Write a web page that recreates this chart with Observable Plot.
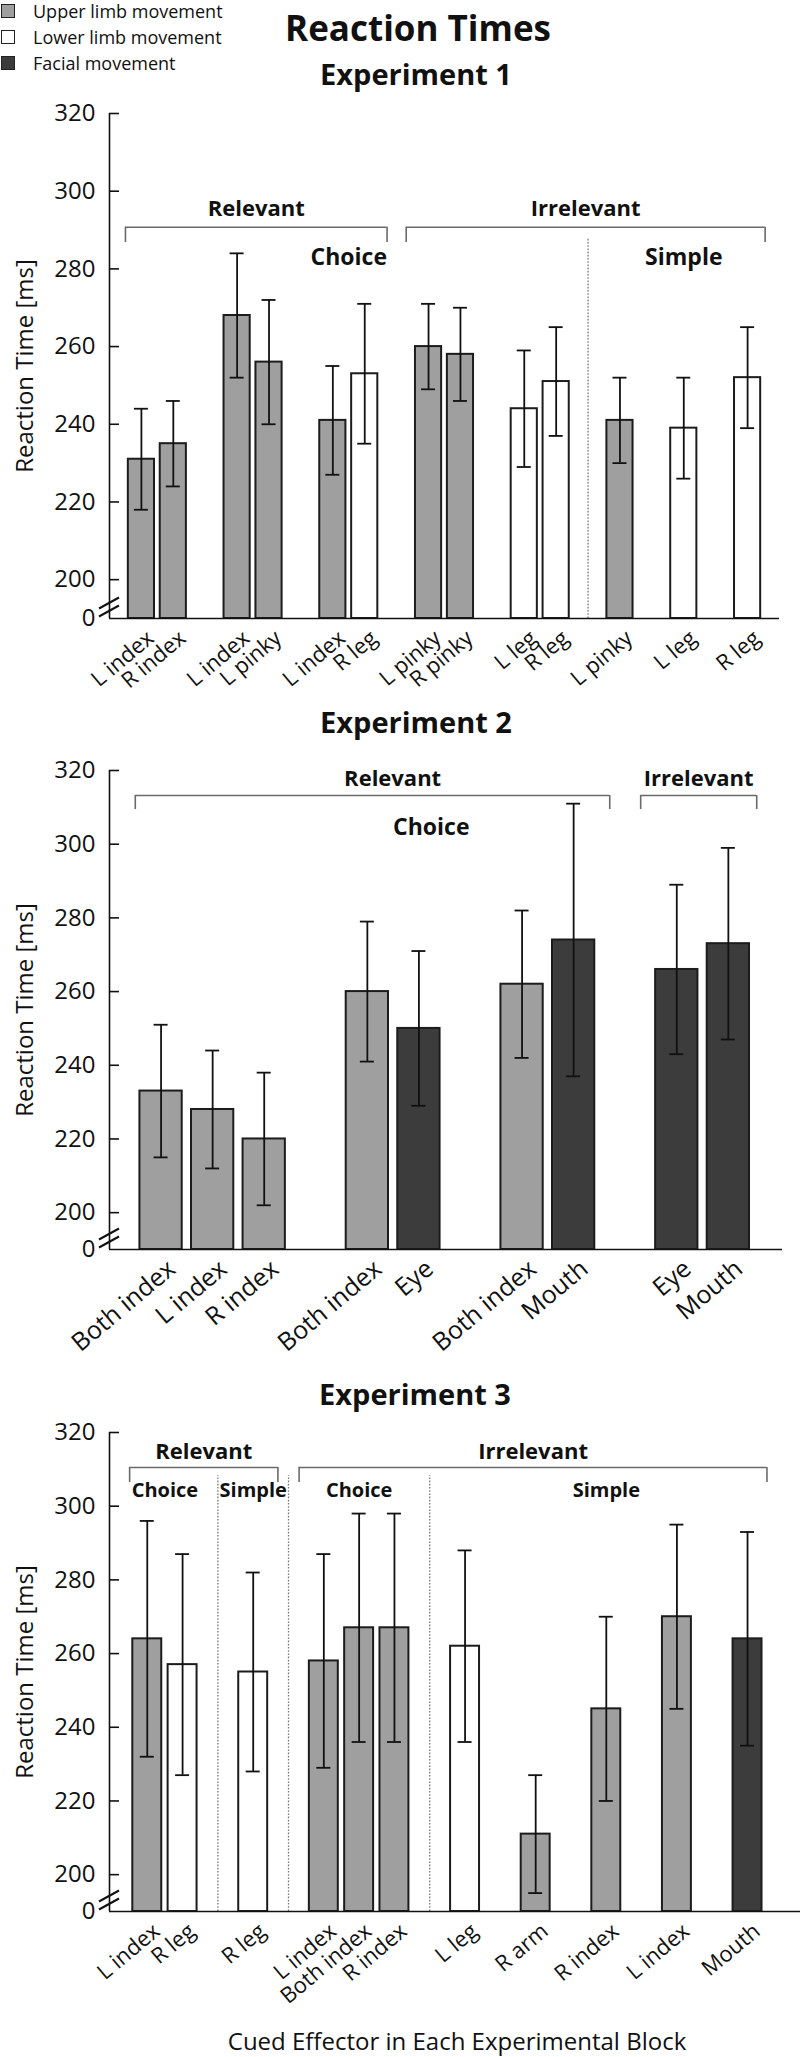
<!DOCTYPE html>
<html><head><meta charset="utf-8">
<script src="https://cdn.jsdelivr.net/npm/d3@7"></script>
<script src="https://cdn.jsdelivr.net/npm/@observablehq/plot@0.6"></script>
<style>
html,body{margin:0;padding:0;background:#fff;}
#page{position:relative;width:800px;height:2057px;overflow:hidden;font-family:"Open Sans","DejaVu Sans",sans-serif;color:#111;}
.abs{position:absolute;white-space:nowrap;line-height:1;}
.ctr{transform:translateX(-50%);}
.bold{font-weight:700;}
.sw{position:absolute;width:12px;height:12px;border:1.5px solid #222;}
.panel{position:absolute;left:0;}
</style></head><body><div id="page"></div>
<script>
// ---------------- DATA ----------------
const legendLabels = ["Upper limb movement", "Lower limb movement", "Facial movement"];
const legendKeys = ["Upper", "Lower", "Facial"];

// Experiment 1
const e1Effector = ["L index","R index","L index","L pinky","L index","R leg","L pinky","R pinky","L leg","R leg","L pinky","L leg","R leg"];
const e1Mean = [231,235,268,256,241,253,260,258,244,251,241,239,252];
const e1Low  = [218,224,252,240,227,235,249,246,229,237,230,226,239];
const e1High = [244,246,284,272,255,271,271,270,259,265,252,252,265];
const e1Movement = ["Upper","Upper","Upper","Upper","Upper","Lower","Upper","Upper","Lower","Lower","Upper","Lower","Lower"];
const e1Block = [1,1,2,2,3,3,4,4,5,5,6,7,8];
const e1Relevance = ["Relevant","Relevant","Relevant","Relevant","Relevant","Relevant","Irrelevant","Irrelevant","Irrelevant","Irrelevant","Irrelevant","Irrelevant","Irrelevant"];
const e1Task = ["Choice","Choice","Choice","Choice","Choice","Choice","Choice","Choice","Choice","Choice","Simple","Simple","Simple"];
const e1TaskLabels = ["Relevant|Choice", "Irrelevant|Simple"];

// Experiment 2
const e2Effector = ["Both index","L index","R index","Both index","Eye","Both index","Mouth","Eye","Mouth"];
const e2Mean = [233,228,220,260,250,262,274,266,273];
const e2Low  = [215,212,202,241,229,242,237,243,247];
const e2High = [251,244,238,279,271,282,311,289,299];
const e2Movement = ["Upper","Upper","Upper","Upper","Facial","Upper","Facial","Facial","Facial"];
const e2Block = [1,1,1,2,2,3,3,4,4];
const e2Relevance = ["Relevant","Relevant","Relevant","Relevant","Relevant","Relevant","Relevant","Irrelevant","Irrelevant"];
const e2Task = ["Choice","Choice","Choice","Choice","Choice","Choice","Choice","Choice","Choice"];
const e2TaskLabels = ["Relevant|Choice"];

// Experiment 3
const e3Effector = ["L index","R leg","R leg","L index","Both index","R index","L leg","R arm","R index","L index","Mouth"];
const e3Mean = [264,257,255,258,267,267,262,211,245,270,264];
const e3Low  = [232,227,228,229,236,236,236,195,220,245,235];
const e3High = [296,287,282,287,298,298,288,227,270,295,293];
const e3Movement = ["Upper","Lower","Lower","Upper","Upper","Upper","Lower","Upper","Upper","Upper","Facial"];
const e3Block = [1,1,2,3,3,3,4,5,6,7,8];
const e3Relevance = ["Relevant","Relevant","Relevant","Irrelevant","Irrelevant","Irrelevant","Irrelevant","Irrelevant","Irrelevant","Irrelevant","Irrelevant"];
const e3Task = ["Choice","Choice","Simple","Choice","Choice","Choice","Simple","Simple","Simple","Simple","Simple"];
const e3TaskLabels = ["Relevant|Choice","Relevant|Simple","Irrelevant|Choice","Irrelevant|Simple"];

const yTicks = [190,200,220,240,260,280,300,320]; // 190 is the broken-axis origin, labelled "0"
const yTickLabels = ["0","200","220","240","260","280","300","320"];
const yTitle = "Reaction Time [ms]";
const xTitle = "Cued Effector in Each Experimental Block";
const mainTitle = "Reaction Times";

// ---------------- STYLE ----------------
const FONT = '"Open Sans","DejaVu Sans",sans-serif';
const fillColors = {domain: legendKeys, range: ["#9f9f9f", "#ffffff", "#3c3c3c"]};
const INK = "#111";

// ---------------- HELPERS ----------------
function buildRows(effector, mean, low, high, movement, block, relevance, task) {
  const rows = [];
  let slot = 0;
  for (let i = 0; i < effector.length; i++) {
    if (i > 0) slot += block[i] !== block[i - 1] ? 2 : 1;
    rows.push({slot, effector: effector[i], mean: mean[i], low: low[i], high: high[i],
      movement: movement[i], relevance: relevance[i], task: task[i]});
  }
  return rows;
}
function runs(rows, key) {
  const out = [];
  for (const r of rows) {
    const k = key(r), last = out[out.length - 1];
    if (last && last.key === k) last.last = r.slot;
    else out.push({key: k, first: r.slot, last: r.slot, relevance: r.relevance, task: r.task});
  }
  return out;
}

const page = document.getElementById("page");
function addText(txt, {x, baseline, size, bold = false, center = true}) {
  const d = document.createElement("div");
  d.className = "abs" + (center ? " ctr" : "") + (bold ? " bold" : "");
  d.style.left = x + "px";
  d.style.top = (baseline - 0.888 * size) + "px";
  d.style.fontSize = size + "px";
  d.textContent = txt;
  page.appendChild(d);
}

function drawPanel(rows, cfg) {
  const ymin = 190, ymax = 320;
  const [x0, x1] = cfg.xDomain;
  const plotW = 800 - cfg.marginLeft - cfg.marginRight;
  const step = plotW / (x1 - x0);
  const hw = 0.41, cap = 7 / step, tickLen = 10 / step;

  // section dividers where the task type changes
  const dividers = [];
  for (let i = 1; i < rows.length; i++)
    if (rows[i].task !== rows[i - 1].task) dividers.push((rows[i].slot + rows[i - 1].slot) / 2);

  // relevance brackets
  const rel = runs(rows, r => r.relevance);
  rel.forEach((s, i) => {
    s.x1 = i === 0 ? s.first - 0.5 : (rel[i - 1].last + s.first) / 2 + 0.3;
    s.x2 = i === rel.length - 1 ? s.last + 0.55 : (s.last + rel[i + 1].first) / 2 - 0.3;
    s.cx = cfg.relAt && cfg.relAt[s.key] != null ? cfg.relAt[s.key] : (s.x1 + s.x2) / 2;
  });
  const bracketEnds = rel.flatMap(s => [s.x1, s.x2]);

  // task labels
  const tasks = runs(rows, r => r.relevance + "|" + r.task)
    .filter(s => cfg.taskLabels.includes(s.key))
    .map(s => ({...s, cx: cfg.taskAt && cfg.taskAt[s.key] != null ? cfg.taskAt[s.key] : (s.first + s.last) / 2}));

  const a = cfg.ann;
  const breakMark = (index, scales) => {
    const g = d3.create("svg:g");
    const bx = scales.x(x0), by = scales.y(ymin);
    for (const off of [7, 15]) {
      g.append("line").attr("x1", bx - 10).attr("y1", by - off + 5.5)
        .attr("x2", bx + 10).attr("y2", by - off - 5.5)
        .attr("stroke", INK).attr("stroke-width", 2);
    }
    return g.node();
  };

  const chart = Plot.plot({
    width: 800, height: cfg.height,
    marginTop: cfg.marginTop, marginBottom: cfg.marginBottom,
    marginLeft: cfg.marginLeft, marginRight: cfg.marginRight,
    x: {domain: cfg.xDomain, axis: null},
    y: {domain: [ymin, ymax], axis: null},
    color: fillColors,
    style: {fontFamily: FONT, fontSize: "21px", color: INK, background: "transparent", overflow: "visible"},
    marks: [
      // dotted dividers
      Plot.ruleX(dividers, {x: d => d, y1: ymin, y2: a.dividerTop, stroke: "#777", strokeWidth: 1.3, strokeDasharray: "1.6,1.6"}),
      // brackets
      Plot.ruleY(rel, {y: a.bracketY, x1: "x1", x2: "x2", stroke: "#6a6a6a", strokeWidth: 1.6}),
      Plot.ruleX(bracketEnds, {x: d => d, y1: a.bracketY, y2: a.bracketTickY, stroke: "#6a6a6a", strokeWidth: 1.6}),
      Plot.text(rel, {x: "cx", y: a.relLabelY, text: "key", fontWeight: 700, fontSize: cfg.relFont, lineAnchor: "bottom", fill: INK}),
      Plot.text(tasks, {x: "cx", y: a.taskLabelY, text: "task", fontWeight: 700, fontSize: cfg.taskFont, lineAnchor: "bottom", fill: INK}),
      // bars
      Plot.rectY(rows, {x1: d => d.slot - hw, x2: d => d.slot + hw, y1: ymin, y2: "mean", fill: "movement", stroke: "#1c1c1c", strokeWidth: 2}),
      // error bars
      Plot.ruleX(rows, {x: "slot", y1: "low", y2: "high", stroke: INK, strokeWidth: 1.8}),
      Plot.ruleY(rows, {y: "low", x1: d => d.slot - cap, x2: d => d.slot + cap, stroke: INK, strokeWidth: 1.8}),
      Plot.ruleY(rows, {y: "high", x1: d => d.slot - cap, x2: d => d.slot + cap, stroke: INK, strokeWidth: 1.8}),
      // axes
      Plot.ruleX([x0], {y1: ymin, y2: ymax, stroke: INK, strokeWidth: 1.6}),
      Plot.ruleY([ymin], {stroke: INK, strokeWidth: 1.6}),
      Plot.ruleY(yTicks.filter(t => t > ymin), {y: d => d, x1: x0, x2: x0 + tickLen, stroke: INK, strokeWidth: 1.6}),
      Plot.axisY({ticks: yTicks, tickFormat: v => yTickLabels[yTicks.indexOf(v)], tickSize: 0, tickPadding: 14, fontSize: 24, label: null, fill: INK}),
      Plot.text([yTitle], {frameAnchor: "left", text: d => d, rotate: -90, textAnchor: "middle", lineAnchor: "middle", dx: -84, fontSize: "24px", fill: INK}),
      // category labels
      Plot.text(rows, {x: "slot", y: ymin, text: "effector", rotate: -40, textAnchor: "end", lineAnchor: "bottom",
        dx: cfg.labelDx, dy: cfg.labelDy, fontSize: cfg.labelFont, fill: INK}),
      breakMark
    ]
  });
  chart.classList.add("panel");
  chart.style.top = cfg.top + "px";
  page.appendChild(chart);
}

// ---------------- LEGEND & TITLES ----------------
legendLabels.forEach((lab, i) => {
  const cy = [11.5, 37, 63.5][i];
  const s = document.createElement("div");
  s.className = "sw";
  s.style.left = "1px"; s.style.top = (cy - 7.5) + "px";
  s.style.background = fillColors.range[i];
  page.appendChild(s);
  addText(lab, {x: 33, baseline: cy + 6.5, size: 18, center: false});
});
addText(mainTitle, {x: 418, baseline: 41, size: 35, bold: true});
addText("Experiment 1", {x: 416, baseline: 85, size: 29, bold: true});
addText("Experiment 2", {x: 416, baseline: 733, size: 29, bold: true});
addText("Experiment 3", {x: 415, baseline: 1405, size: 29, bold: true});
addText(xTitle, {x: 457, baseline: 2050, size: 24});

// ---------------- PANELS ----------------
const rows1 = buildRows(e1Effector, e1Mean, e1Low, e1High, e1Movement, e1Block, e1Relevance, e1Task);
const rows2 = buildRows(e2Effector, e2Mean, e2Low, e2High, e2Movement, e2Block, e2Relevance, e2Task);
const rows3 = buildRows(e3Effector, e3Mean, e3Low, e3High, e3Movement, e3Block, e3Relevance, e3Task);

drawPanel(rows1, {top: 95, height: 605, marginTop: 18, marginBottom: 82, marginLeft: 109, marginRight: 21,
  xDomain: [-1, 20], taskLabels: e1TaskLabels, taskAt: {"Relevant|Choice": 6.5},
  relFont: 22, taskFont: 23, labelFont: 22, labelDx: 14, labelDy: 22,
  ann: {bracketY: 290.7, bracketTickY: 286.8, relLabelY: 293.7, taskLabelY: 280.9, dividerTop: 287.6}});

drawPanel(rows2, {top: 750, height: 600, marginTop: 20, marginBottom: 101, marginLeft: 109, marginRight: 18,
  xDomain: [-1, 12.05], taskLabels: e2TaskLabels, taskAt: {"Relevant|Choice": 5.24}, relAt: {"Relevant": 4.49},
  relFont: 22, taskFont: 23, labelFont: 25, labelDx: 16, labelDy: 22,
  ann: {bracketY: 313.2, bracketTickY: 309.4, relLabelY: 315.7, taskLabelY: 302.4, dividerTop: 310}});

drawPanel(rows3, {top: 1412, height: 590, marginTop: 20, marginBottom: 91, marginLeft: 109, marginRight: 0,
  xDomain: [-1.07, 18.5], taskLabels: e3TaskLabels,
  relFont: 22, taskFont: 20, labelFont: 22, labelDx: 14, labelDy: 22,
  ann: {bracketY: 310.5, bracketTickY: 306.4, relLabelY: 312.9, taskLabelY: 302.4, dividerTop: 308.3}});
</script></body></html>
